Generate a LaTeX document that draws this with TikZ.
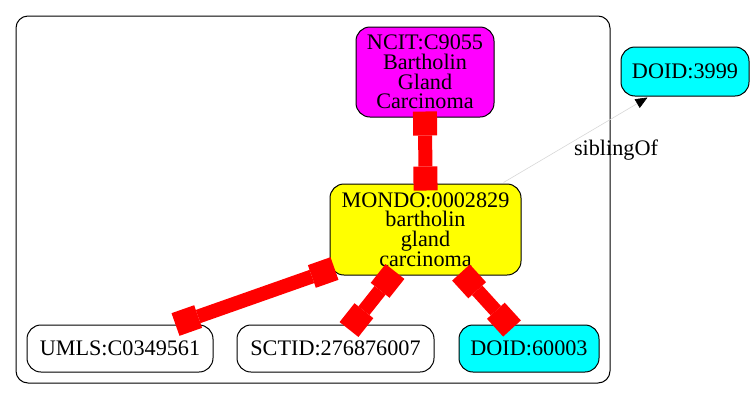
\documentclass[tikz,border=0pt]{standalone}
\usepackage{fontspec}
\setmainfont{Liberation Serif}
\usetikzlibrary{arrows.meta,calc}
\definecolor{gvmag}{RGB}{255,0,255}
\definecolor{gvyel}{RGB}{255,255,0}
\definecolor{gvcyan}{RGB}{0,255,255}
\definecolor{gvred}{RGB}{255,0,0}
\definecolor{sibgray}{RGB}{215,215,215}
\tikzset{
  gvnode/.style={draw=black, line width=1pt, rounded corners=14pt, inner sep=0pt, align=center,
    font=\fontsize{22.2}{19.7}\selectfont},
  redge/.style={draw=gvred, line width=14pt,
    {Square[length=24pt,width=24pt,line width=0pt]}-{Square[length=24pt,width=24pt,line width=0pt]}},
  sib/.style={draw=sibgray, line width=0.6pt, -{Triangle[length=12pt,width=10pt,color=black]}},
  lbl/.style={inner sep=0pt, font=\fontsize{22.2}{19.7}\selectfont},
  clusterbox/.style={draw=black, line width=1pt, rounded corners=12pt, inner sep=0pt}
}
\begin{document}
\begin{tikzpicture}[x=1pt,y=-1pt]
\useasboundingbox (0,0) rectangle (755,400);
\node[clusterbox, minimum width=594pt, minimum height=367pt] (cluster) at (313,199.5) {};
\node[gvnode, fill=gvmag, minimum width=138pt, minimum height=90pt] (ncit) at (425,72) {NCIT:C9055\\Bartholin\\Gland\\Carcinoma};
\node[gvnode, fill=gvcyan, minimum width=128pt, minimum height=49pt] (doidA) at (685,71.5) {DOID:3999};
\node[gvnode, fill=gvyel, minimum width=191pt, minimum height=91pt] (mondo) at (425.5,229.5) {MONDO:0002829\\bartholin\\gland\\carcinoma};
\node[gvnode, fill=white, minimum width=186pt, minimum height=47pt] (umls) at (120,348.5) {UMLS:C0349561};
\node[gvnode, fill=white, minimum width=197pt, minimum height=47pt] (sctid) at (335.5,348.5) {SCTID:276876007};
\node[gvnode, fill=gvcyan, minimum width=140pt, minimum height=47pt] (doidB) at (529,348.5) {DOID:60003};
% red edges
\draw[redge, shorten <=-6pt, shorten >=-7pt] (ncit.south) -- (mondo.north);
\draw[redge] ($(mondo.south west)+(5,-7)$) -- ($(umls.north east)+(-38,0)$);
\draw[redge] ($(mondo.south)+(-30.5,-4)$) -- ($(sctid.north)+(13.5,5)$);
\draw[redge] ($(mondo.south)+(35.5,-3)$) -- ($(doidB.north)+(-17,4)$);
% siblingOf
\draw[sib] ($(mondo.north east)+(-18,-1)$) -- ($(doidA.south west)+(27,1)$);
\node[lbl, anchor=base] (siblbl) at (616,155) {siblingOf};
\end{tikzpicture}
\end{document}
